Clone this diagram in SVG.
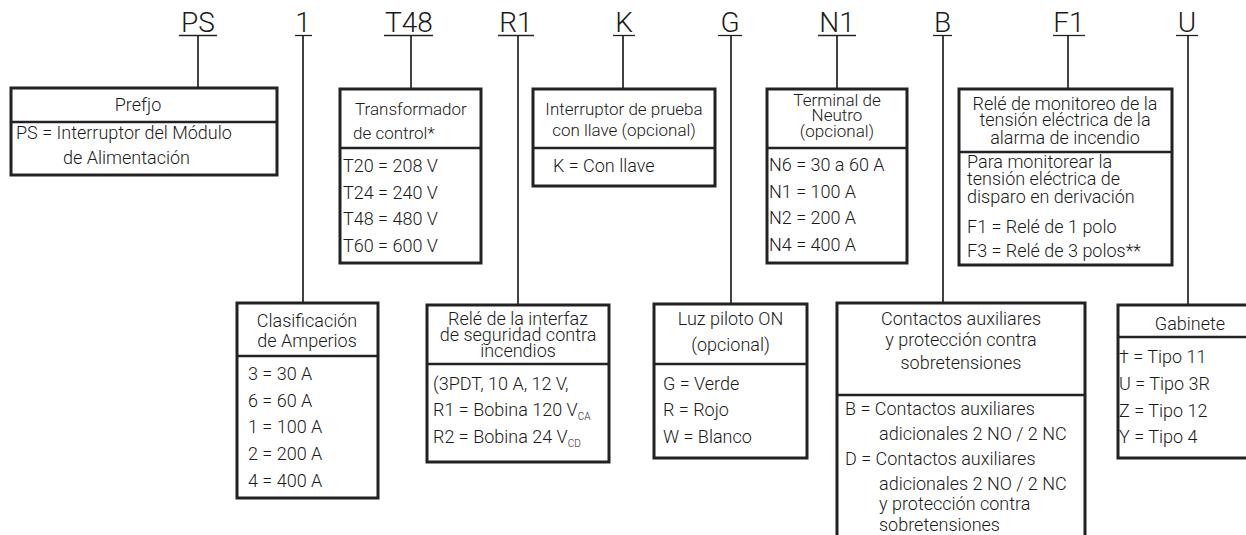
<svg xmlns="http://www.w3.org/2000/svg" width="1246" height="535" viewBox="0 0 1246 535">
<style>
text { font-family: Roboto, "Liberation Sans", sans-serif; font-weight: 300; fill: #1a1a1a; }
.code { font-size: 28px; text-anchor: middle; }
.t { font-size: 18px; }
.s { font-size: 17px; }
.c { text-anchor: middle; }
.sub { font-size: 10px; }
.box { fill: #fff; stroke: #222; stroke-width: 3; }
.sep { stroke: #222; stroke-width: 2.5; }
.ul { stroke: #222; stroke-width: 1.3; }
#connectors line { stroke: #222; stroke-width: 1.7; }
</style>
<rect width="1246" height="535" fill="#fff"/>

<g id="connectors">
  <line x1="198" y1="35" x2="198" y2="88"/>
  <line x1="303" y1="35" x2="303" y2="303"/>
  <line x1="411" y1="35" x2="411" y2="89"/>
  <line x1="518" y1="35" x2="518" y2="305"/>
  <line x1="623" y1="35" x2="623" y2="89"/>
  <line x1="731" y1="35" x2="731" y2="304"/>
  <line x1="837" y1="35" x2="837" y2="89"/>
  <line x1="943" y1="35" x2="943" y2="303"/>
  <line x1="1068" y1="35" x2="1068" y2="89"/>
  <line x1="1188" y1="35" x2="1188" y2="305"/>
</g>

<g id="codes">
  <g id="code-PS"><text class="code" x="198" y="32">PS</text><line class="ul" x1="179" y1="35.5" x2="217" y2="35.5"/></g>
  <g id="code-1"><text class="code" x="303" y="32">1</text><line class="ul" x1="295" y1="35.5" x2="312" y2="35.5"/></g>
  <g id="code-T48"><text class="code" x="409" y="32">T48</text><line class="ul" x1="384" y1="35.5" x2="433" y2="35.5"/></g>
  <g id="code-R1"><text class="code" x="516" y="32">R1</text><line class="ul" x1="498" y1="35.5" x2="534" y2="35.5"/></g>
  <g id="code-K"><text class="code" x="624" y="32">K</text><line class="ul" x1="613" y1="35.5" x2="635" y2="35.5"/></g>
  <g id="code-G"><text class="code" x="730" y="32">G</text><line class="ul" x1="718" y1="35.5" x2="742" y2="35.5"/></g>
  <g id="code-N1"><text class="code" x="837" y="32">N1</text><line class="ul" x1="818" y1="35.5" x2="856" y2="35.5"/></g>
  <g id="code-B"><text class="code" x="942.5" y="32">B</text><line class="ul" x1="933" y1="35.5" x2="952" y2="35.5"/></g>
  <g id="code-F1"><text class="code" x="1069" y="32">F1</text><line class="ul" x1="1053" y1="35.5" x2="1085" y2="35.5"/></g>
  <g id="code-U"><text class="code" x="1187" y="32">U</text><line class="ul" x1="1176" y1="35.5" x2="1198" y2="35.5"/></g>
</g>

<g id="prefijo">
  <rect class="box" x="11" y="88" width="266" height="87"/>
  <line class="sep" x1="11" y1="122" x2="277" y2="122"/>
  <text class="t c" x="138" y="111">Prefjo</text>
  <text class="t" x="16" y="139">PS = Interruptor del Módulo</text>
  <text class="t" x="63" y="164">de Alimentación</text>
</g>

<g id="transformador">
  <rect class="box" x="340" y="89" width="141" height="174"/>
  <line class="sep" x1="340" y1="148" x2="481" y2="148"/>
  <text class="s" x="355" y="115">Transformador</text>
  <text class="s" x="353" y="139">de control*</text>
  <text class="t" x="343" y="172">T20 = 208 V</text>
  <text class="t" x="343" y="199">T24 = 240 V</text>
  <text class="t" x="343" y="225">T48 = 480 V</text>
  <text class="t" x="343" y="252">T60 = 600 V</text>
</g>

<g id="llave">
  <rect class="box" x="533" y="89" width="182" height="97"/>
  <line class="sep" x1="533" y1="148" x2="715" y2="148"/>
  <text class="s c" x="624" y="115">Interruptor de prueba</text>
  <text class="s c" x="624" y="136">con llave (opcional)</text>
  <text class="t" x="553" y="172">K = Con llave</text>
</g>

<g id="neutro">
  <rect class="box" x="767" y="89" width="140" height="174"/>
  <line class="sep" x1="767" y1="148" x2="907" y2="148"/>
  <text class="s c" x="837" y="106">Terminal de</text>
  <text class="s c" x="837" y="121">Neutro</text>
  <text class="s c" x="837" y="137">(opcional)</text>
  <text class="t" x="769" y="171">N6 = 30 a 60 A</text>
  <text class="t" x="769" y="198">N1 = 100 A</text>
  <text class="t" x="769" y="224">N2 = 200 A</text>
  <text class="t" x="769" y="251">N4 = 400 A</text>
</g>

<g id="monitoreo">
  <rect class="box" x="959" y="89" width="213" height="176"/>
  <line class="sep" x1="959" y1="152" x2="1172" y2="152"/>
  <text class="t c" x="1065" y="110">Relé de monitoreo de la</text>
  <text class="t c" x="1065" y="126">tensión eléctrica de la</text>
  <text class="t c" x="1065" y="144">alarma de incendio</text>
  <text class="t" x="967" y="168">Para monitorear la</text>
  <text class="t" x="967" y="185">tensión eléctrica de</text>
  <text class="t" x="967" y="203">disparo en derivación</text>
  <text class="t" x="967" y="233">F1 = Relé de 1 polo</text>
  <text class="t" x="967" y="257">F3 = Relé de 3 polos**</text>
</g>

<g id="amperios">
  <rect class="box" x="237" y="303" width="141" height="195"/>
  <line class="sep" x1="237" y1="356" x2="378" y2="356"/>
  <text class="t c" x="307" y="327">Clasificación</text>
  <text class="t c" x="307" y="347">de Amperios</text>
  <text class="t" x="248" y="380">3 = 30 A</text>
  <text class="t" x="248" y="407">6 = 60 A</text>
  <text class="t" x="248" y="433">1 = 100 A</text>
  <text class="t" x="248" y="460">2 = 200 A</text>
  <text class="t" x="248" y="487">4 = 400 A</text>
</g>

<g id="interfaz">
  <rect class="box" x="427" y="305" width="182" height="157"/>
  <line class="sep" x1="427" y1="364" x2="609" y2="364"/>
  <text class="t c" x="518" y="325">Relé de la interfaz</text>
  <text class="t c" x="518" y="341">de seguridad contra</text>
  <text class="t c" x="518" y="357">incendios</text>
  <text class="t" x="433" y="390">(3PDT, 10 A, 12 V,</text>
  <text class="t" x="433" y="416">R1 = Bobina 120 V<tspan class="sub" dy="4">CA</tspan></text>
  <text class="t" x="433" y="443">R2 = Bobina 24 V<tspan class="sub" dy="4">CD</tspan></text>
</g>

<g id="piloto">
  <rect class="box" x="654" y="304" width="153" height="154"/>
  <line class="sep" x1="654" y1="364" x2="807" y2="364"/>
  <text class="t c" x="730.5" y="325">Luz piloto ON</text>
  <text class="t c" x="730.5" y="351">(opcional)</text>
  <text class="t" x="663" y="390">G = Verde</text>
  <text class="t" x="663" y="416">R = Rojo</text>
  <text class="t" x="663" y="443">W = Blanco</text>
</g>

<g id="contactos">
  <rect class="box" x="837" y="303" width="248" height="245"/>
  <line class="sep" x1="837" y1="395" x2="1085" y2="395"/>
  <text class="t c" x="961" y="325">Contactos auxiliares</text>
  <text class="t c" x="961" y="346">y protección contra</text>
  <text class="t c" x="961" y="369">sobretensiones</text>
  <text class="t" x="845" y="415">B = Contactos auxiliares</text>
  <text class="t" x="879" y="440">adicionales 2 NO / 2 NC</text>
  <text class="t" x="845" y="465">D = Contactos auxiliares</text>
  <text class="t" x="879" y="490">adicionales 2 NO / 2 NC</text>
  <text class="t" x="879" y="510">y protección contra</text>
  <text class="t" x="879" y="531">sobretensiones</text>
</g>

<g id="gabinete">
  <rect class="box" x="1118" y="305" width="140" height="153"/>
  <line class="sep" x1="1118" y1="337" x2="1258" y2="337"/>
  <text class="t c" x="1190" y="330">Gabinete</text>
  <text class="t" x="1119" y="363">† = Tipo 11</text>
  <text class="t" x="1119" y="390">U = Tipo 3R</text>
  <text class="t" x="1119" y="417">Z = Tipo 12</text>
  <text class="t" x="1119" y="443">Y = Tipo 4</text>
</g>
</svg>
